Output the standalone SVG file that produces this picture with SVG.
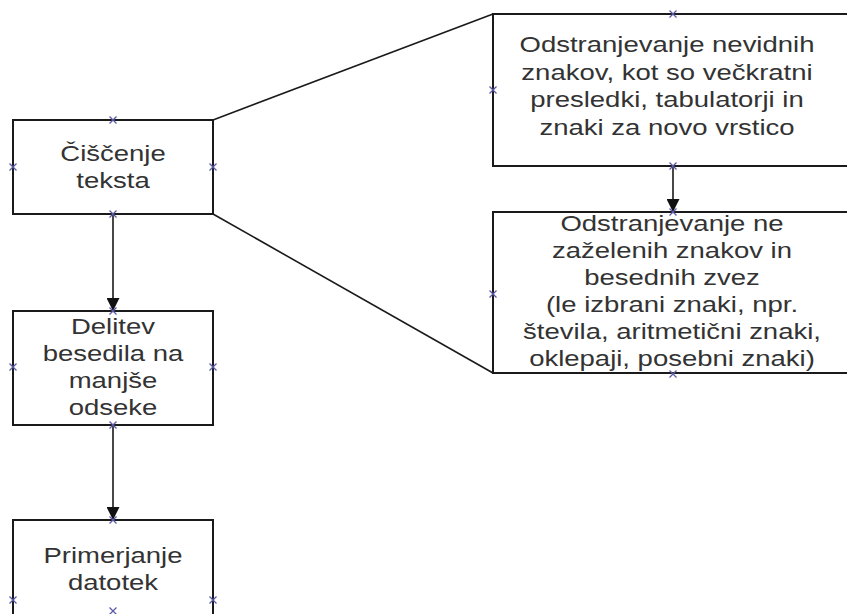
<svg xmlns="http://www.w3.org/2000/svg" width="847" height="614" viewBox="0 0 847 614">
<style>
.box{fill:#fff;stroke:#1a1a1a;stroke-width:2}
.t{font-family:"Liberation Sans",Arial,sans-serif;font-size:22px;fill:#333;text-anchor:middle}
.con{fill:none;stroke:#1a1a1a;stroke-width:1.6}
.mk{fill:none;stroke:#5a5aa8;stroke-width:1.3}
</style>
<defs>
<marker id="ah" viewBox="0 0 13 13" refX="13" refY="6.5" markerWidth="13" markerHeight="13" markerUnits="userSpaceOnUse" orient="auto">
<path d="M0,0 L13,6.5 L0,13 Z" fill="#111"/>
</marker>
<path id="x" d="M-3.5,-3.5 L3.5,3.5 M-3.5,3.5 L3.5,-3.5" class="mk"/>
</defs>
<rect width="847" height="614" fill="#fff"/>
<g id="connectors">
<line class="con" x1="213" y1="120" x2="493" y2="14"/>
<line class="con" x1="213" y1="214" x2="493" y2="373"/>
<line class="con" x1="113" y1="214" x2="113" y2="311" marker-end="url(#ah)"/>
<line class="con" x1="113" y1="425" x2="113" y2="520" marker-end="url(#ah)"/>
<line class="con" x1="673" y1="166" x2="673" y2="212" marker-end="url(#ah)"/>
</g>
<g id="n1">
<rect class="box" x="13" y="120" width="200" height="94"/>
<text class="t" transform="matrix(1.25 0 0 1 113 0)"><tspan x="0" y="161">Čiščenje</tspan><tspan x="0" y="188">teksta</tspan></text>
<use href="#x" x="113" y="120"/><use href="#x" x="13" y="167"/><use href="#x" x="213" y="167"/><use href="#x" x="113" y="214"/>
</g>
<g id="n2">
<rect class="box" x="493" y="14" width="362" height="152"/>
<text class="t" transform="matrix(1.25 0 0 1 667 0)"><tspan x="0" y="52">Odstranjevanje nevidnih</tspan><tspan x="0" y="80">znakov, kot so večkratni</tspan><tspan x="0" y="107">presledki, tabulatorji in</tspan><tspan x="0" y="135">znaki za novo vrstico</tspan></text>
<use href="#x" x="673" y="14"/><use href="#x" x="493" y="90"/><use href="#x" x="673" y="166"/>
</g>
<g id="n3">
<rect class="box" x="493" y="212" width="362" height="161"/>
<text class="t" transform="matrix(1.25 0 0 1 672 0)"><tspan x="0" y="231">Odstranjevanje ne</tspan><tspan x="0" y="258">zaželenih znakov in</tspan><tspan x="0" y="285">besednih zvez</tspan><tspan x="0" y="312">(le izbrani znaki, npr.</tspan><tspan x="0" y="339">števila, aritmetični znaki,</tspan><tspan x="0" y="366">oklepaji, posebni znaki)</tspan></text>
<use href="#x" x="673" y="212"/><use href="#x" x="493" y="294"/><use href="#x" x="673" y="374"/>
</g>
<g id="n4">
<rect class="box" x="13" y="311" width="200" height="114"/>
<text class="t" transform="matrix(1.25 0 0 1 113 0)"><tspan x="0" y="334">Delitev</tspan><tspan x="0" y="361">besedila na</tspan><tspan x="0" y="388">manjše</tspan><tspan x="0" y="415">odseke</tspan></text>
<use href="#x" x="113" y="311"/><use href="#x" x="13" y="367"/><use href="#x" x="213" y="367"/><use href="#x" x="113" y="425"/>
</g>
<g id="n5">
<rect class="box" x="13" y="520" width="200" height="160"/>
<text class="t" transform="matrix(1.25 0 0 1 113 0)"><tspan x="0" y="563">Primerjanje</tspan><tspan x="0" y="590">datotek</tspan></text>
<use href="#x" x="113" y="520"/><use href="#x" x="13" y="600"/><use href="#x" x="213" y="600"/><use href="#x" x="113" y="611"/>
</g>
</svg>
